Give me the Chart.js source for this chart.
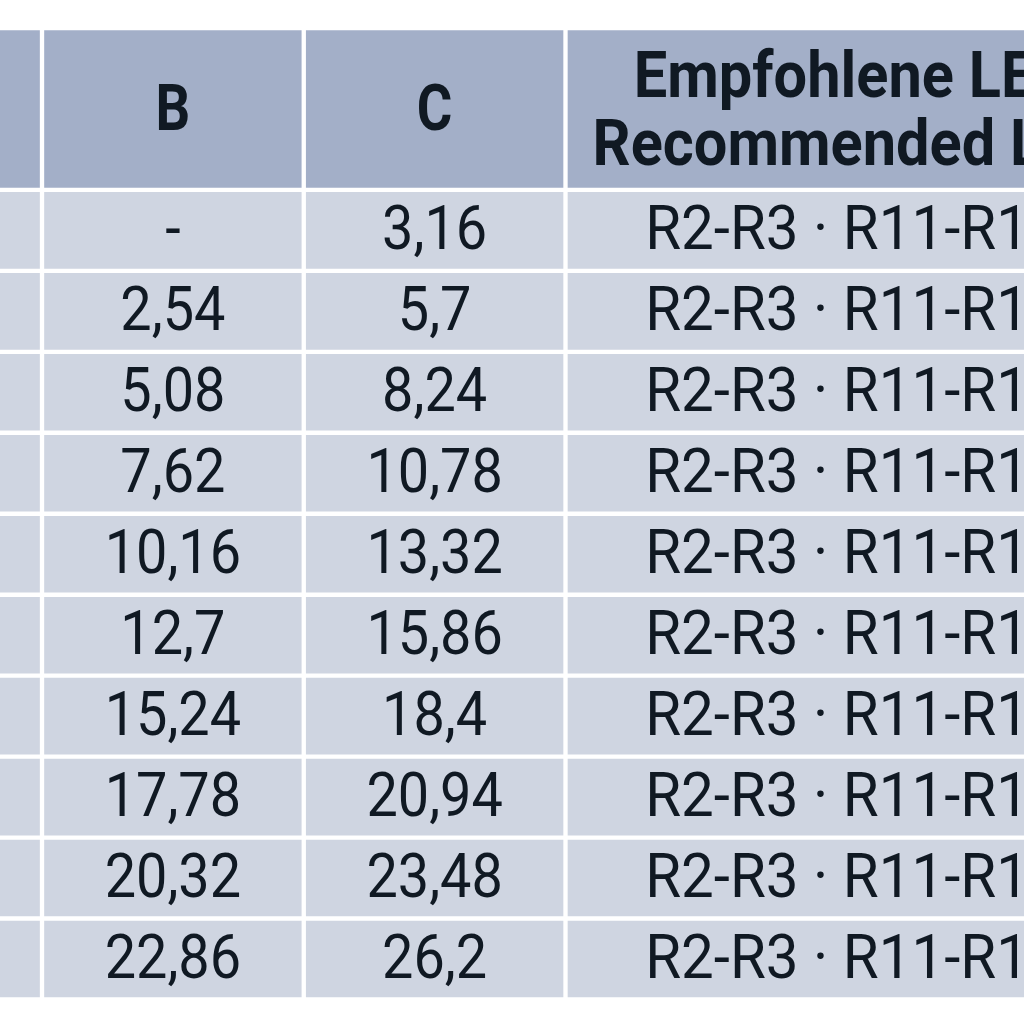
<!DOCTYPE html>
<html>
<head>
<meta charset="utf-8">
<script src="https://cdn.jsdelivr.net/npm/chart.js@4/dist/chart.umd.min.js"></script>
<style>
  html, body { margin: 0; padding: 0; background: #fff; }
  #wrap { width: 1024px; height: 1024px; }
</style>
</head>
<body>
<div id="wrap"><canvas id="table-chart"></canvas></div>
<script>
// table content (first column is cut off in the picture, nothing readable in it)
const columnHeaders = ['', 'B', 'C', ['Empfohlene LED', 'Recommended LED']];
const rowKeys = ['1', '2', '3', '4', '5', '6', '7', '8', '9', '10'];
const columnA = ['', '', '', '', '', '', '', '', '', ''];
const columnB = [null, 2.54, 5.08, 7.62, 10.16, 12.7, 15.24, 17.78, 20.32, 22.86];
const columnC = [3.16, 5.7, 8.24, 10.78, 13.32, 15.86, 18.4, 20.94, 23.48, 26.2];
const columnD = [
    'R2-R3 · R11-R12', 'R2-R3 · R11-R12', 'R2-R3 · R11-R12', 'R2-R3 · R11-R12', 'R2-R3 · R11-R12',
    'R2-R3 · R11-R12', 'R2-R3 · R11-R12', 'R2-R3 · R11-R12', 'R2-R3 · R11-R12', 'R2-R3 · R11-R12'
];

// column extents on the x axis, in "narrow column" units
const columnSpans = [[0, 1], [1, 2], [2, 3], [3, 5.2]];

const HEADER_BG = '#a3afc8';
const BODY_BG = '#cfd5e1';
const TEXT_COLOR = '#101923';
const FONT = 'Roboto, "DejaVu Sans Condensed", sans-serif';
// horizontal squeeze per column: the source uses a narrow typeface
const bodySqueeze = [0.9, 0.9, 0.9, 0.94];
const headSqueeze = [0.85, 0.85, 0.85, 0.93];

const bodyColumns = [columnA, columnB, columnC, columnD];
const categories = ['head-1', 'head-2', ...rowKeys];

function fmt(v) {
    if (v === null) return '-';
    if (typeof v === 'number') return String(v).replace('.', ',');
    return v;
}

function cellBorder(ctx) {
    const half = 2.5;
    if (ctx.dataIndex === 0) return { top: half, right: half, bottom: 0, left: half };
    if (ctx.dataIndex === 1) return { top: 0, right: half, bottom: half, left: half };
    return half;
}

function squeezedText(ctx, txt, x, y, sx) {
    ctx.save();
    ctx.translate(x, y);
    ctx.scale(sx, 1);
    ctx.fillText(txt, 0, 0);
    ctx.restore();
}

const cellText = {
    id: 'cellText',
    afterDatasetsDraw(chart) {
        const ctx = chart.ctx;
        ctx.save();
        ctx.fillStyle = TEXT_COLOR;
        ctx.textAlign = 'center';
        ctx.textBaseline = 'alphabetic';

        chart.data.datasets.forEach((ds, ci) => {
            const bars = chart.getDatasetMeta(ci).data;
            const cx = (bars[0].x + bars[0].base) / 2;

            // header cell spans the first two categories
            const hy = (bars[0].y + bars[1].y) / 2;
            const head = columnHeaders[ci];
            ctx.font = 'bold 64px ' + FONT;
            if (Array.isArray(head)) {
                squeezedText(ctx, head[0], cx, hy - 12, headSqueeze[ci]);
                squeezedText(ctx, head[1], cx, hy + 56, headSqueeze[ci]);
            } else if (head) {
                squeezedText(ctx, head, cx, hy + 21, headSqueeze[ci]);
            }

            ctx.font = '62px ' + FONT;
            bodyColumns[ci].forEach((v, ri) => {
                const b = bars[ri + 2];
                const txt = fmt(v);
                if (txt) squeezedText(ctx, txt, (b.x + b.base) / 2, b.y + 19, bodySqueeze[ci]);
            });
        });
        ctx.restore();
    }
};

new Chart(document.getElementById('table-chart'), {
    type: 'bar',
    data: {
        labels: categories,
        datasets: columnSpans.map((span, ci) => ({
            label: 'col' + ci,
            data: categories.map(() => span),
            backgroundColor: ctx => ctx.dataIndex < 2 ? HEADER_BG : BODY_BG,
            borderColor: '#ffffff',
            borderWidth: cellBorder,
            borderSkipped: false,
            grouped: false,
            categoryPercentage: 1,
            barPercentage: 1
        }))
    },
    options: {
        indexAxis: 'y',
        responsive: true,
        maintainAspectRatio: false,
        devicePixelRatio: 1,
        animation: false,
        layout: { padding: { top: 28, bottom: 24.5, left: 0, right: 0 } },
        scales: {
            x: { type: 'linear', min: 0.8395, max: 4.7517, display: false },
            y: { type: 'category', display: false }
        },
        plugins: {
            legend: { display: false },
            tooltip: { enabled: false }
        }
    },
    plugins: [cellText]
});
</script>
</body>
</html>
